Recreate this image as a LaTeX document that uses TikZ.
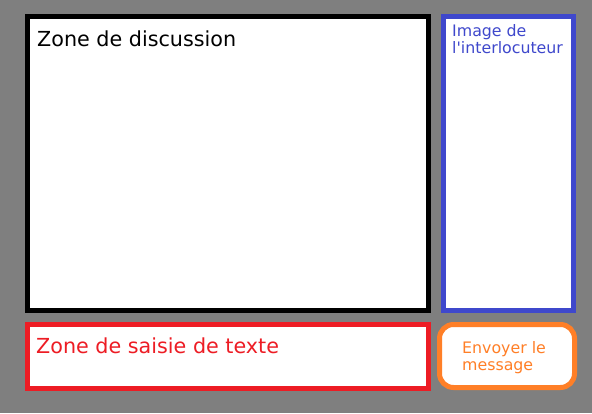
\documentclass[tikz,border=0pt]{standalone}
\usepackage{fontspec}
\setmainfont{DejaVu Sans}
\definecolor{fond}{RGB}{127,127,127}
\definecolor{indigo}{RGB}{63,72,204}
\definecolor{rouge}{RGB}{237,28,36}
\definecolor{orange}{RGB}{255,127,39}
\tikzset{
  zone/.style={line width=5pt,fill=white},
  grand/.style={inner sep=0pt,anchor=base west,font=\fontsize{20.7}{24}\selectfont},
  petit/.style={inner sep=0pt,anchor=north west,align=left,font=\fontsize{15.8}{17}\selectfont}
}
\begin{document}
\begin{tikzpicture}[x=1pt,y=-1pt]
  \fill[fond]
    (0,0) rectangle (592,413);
  \useasboundingbox
    (0,0) rectangle (592,413);
  \draw[zone,draw=black]
    (27.5,16.5) rectangle (428.5,310.5);
  \node[grand] (discussion) at (37,46) {Zone de discussion};
  \draw[zone,draw=indigo]
    (443.5,16.5) rectangle (573.5,310.5);
  \node[petit,text=indigo] (image) at (452,24) {Image de\\l\textquotesingle interlocuteur};
  \draw[zone,draw=rouge]
    (27.5,324.5) rectangle (428.5,388.5);
  \node[grand,text=rouge] (saisie) at (36,353) {Zone de saisie de texte};
  \draw[zone,draw=orange,rounded corners=14pt]
    (439.5,324.5) rectangle (574.5,387.5);
  \node[petit,text=orange] (envoyer) at (462,341) {Envoyer le\\message};
\end{tikzpicture}
\end{document}
